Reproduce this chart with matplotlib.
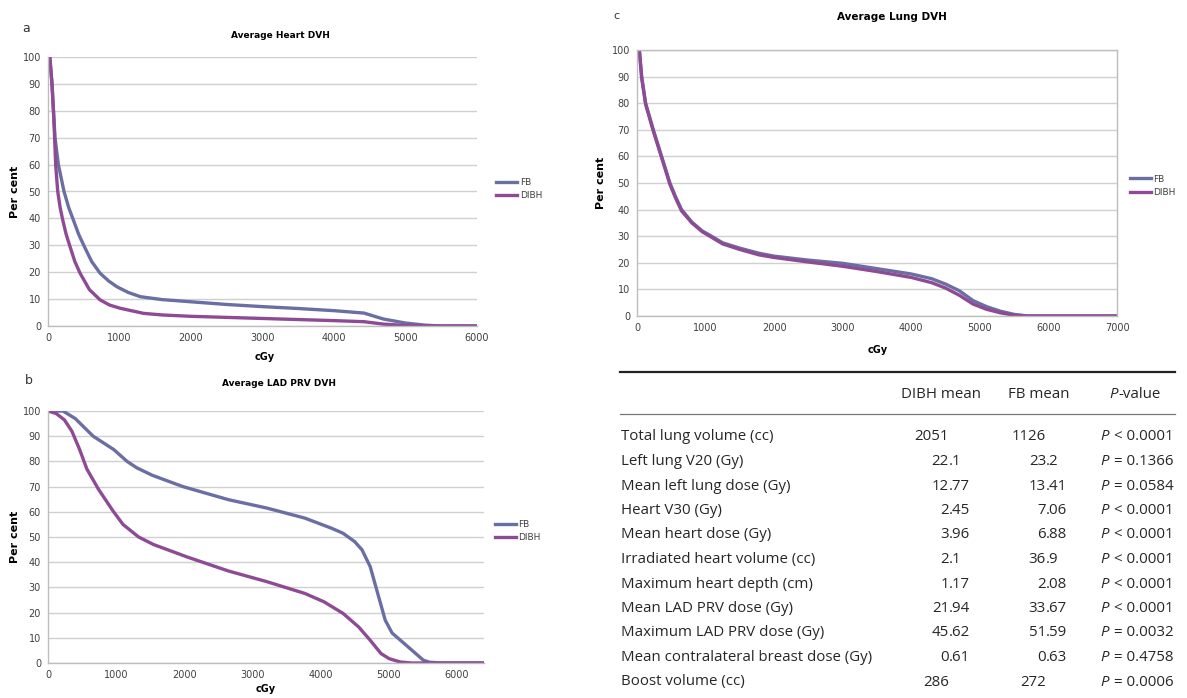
import matplotlib
matplotlib.use("Agg")
import matplotlib.pyplot as plt

W, H = 1187, 698

# dose points (cGy) and % volume for each DVH
heart_dose_fb = [0, 25, 56, 98, 145, 224, 290, 355, 430, 509, 610, 729, 850, 963, 1120, 1290, 1600, 2000, 2500, 3000, 3500, 4000, 4420, 4690, 5000, 5280, 5500, 6000]
heart_fb = [100, 100, 90, 70, 60, 50, 44, 39.4, 34, 29.5, 24, 19.6, 16.7, 14.6, 12.5, 10.9, 9.8, 9, 8, 7.2, 6.5, 5.7, 4.8, 2.6, 1.1, 0.3, 0, 0]
heart_dose_dibh = [0, 25, 56, 85, 107, 136, 170, 206, 255, 308, 375, 449, 580, 729, 860, 1009, 1336, 1600, 2000, 3000, 4000, 4420, 4690, 5000, 5300, 6000]
heart_dibh = [100, 100, 90, 75, 60, 50, 44, 39.4, 34, 29.5, 24, 19.6, 13.5, 9.7, 7.8, 6.6, 4.7, 4.1, 3.6, 2.8, 2.0, 1.6, 0.7, 0.2, 0, 0]

lad_dose_fb = [0, 220, 400, 663, 965, 1161, 1300, 1530, 1980, 2650, 3210, 3770, 4160, 4330, 4500, 4610, 4730, 4840, 4950, 5051, 5230, 5400, 5510, 5600, 5800, 6400]
lad_fb = [100, 100, 97, 90, 84.7, 80, 77.5, 74.5, 70, 64.8, 61.5, 57.5, 53.5, 51.5, 48.2, 44.9, 38.2, 27.6, 17, 11.9, 7.7, 3.7, 1.1, 0.3, 0, 0]
lad_dose_dibh = [0, 120, 240, 350, 460, 570, 740, 950, 1100, 1330, 1550, 2050, 2650, 3210, 3770, 4050, 4330, 4560, 4730, 4890, 5010, 5170, 5340, 6400]
lad_dibh = [100, 99, 96.5, 92, 85, 77, 69, 60.5, 55, 50, 47, 42, 36.5, 32.3, 27.6, 24.3, 19.7, 14.3, 9, 3.7, 1.7, 0.4, 0, 0]

lung_dose = [0, 34, 68, 126, 238, 359, 480, 560, 650, 800, 950, 1087, 1250, 1500, 1777, 2000, 2500, 3000, 3500, 4000, 4300, 4500, 4700, 4900, 5100, 5300, 5500, 5700, 7000]
lung_fb = [100, 100, 90, 80, 70, 60, 50, 45, 40, 35.3, 32, 30, 27.5, 25.5, 23.6, 22.5, 21, 19.8, 17.8, 15.8, 14, 12, 9.5, 5.8, 3.5, 1.8, 0.6, 0, 0]
lung_dibh = [100, 100, 89.5, 79.5, 69.5, 59.5, 49.5, 44.5, 39.5, 35, 31.7, 29.6, 27.1, 25, 23, 22, 20.3, 18.7, 16.7, 14.5, 12.5, 10.5, 7.8, 4.5, 2.5, 1.2, 0.3, 0, 0]

# table
row_labels = ["Total lung volume (cc)", "Left lung V20 (Gy)", "Mean left lung dose (Gy)",
              "Heart V30 (Gy)", "Mean heart dose (Gy)", "Irradiated heart volume (cc)",
              "Maximum heart depth (cm)", "Mean LAD PRV dose (Gy)", "Maximum LAD PRV dose (Gy)",
              "Mean contralateral breast dose (Gy)", "Boost volume (cc)"]
dibh_mean = ["2051", "22.1", "12.77", "2.45", "3.96", "2.1", "1.17", "21.94", "45.62", "0.61", "286"]
fb_mean = ["1126", "23.2", "13.41", "7.06", "6.88", "36.9", "2.08", "33.67", "51.59", "0.63", "272"]
p_values = ["< 0.0001", "= 0.1366", "= 0.0584", "< 0.0001", "< 0.0001", "< 0.0001",
            "< 0.0001", "< 0.0001", "= 0.0032", "= 0.4758", "= 0.0006"]

FB_COL = "#6b6ea3"
DIBH_COL = "#8e4a94"
GRID = "#d0d0d0"
TICK = "#404040"


def fx(x):
    return x / W


def fy(y):
    return 1 - y / H


def make_axes(fig, left, right, top, bottom):
    return fig.add_axes([fx(left), fy(bottom), (right - left) / W, (bottom - top) / H])


def style(ax, xmax, xticks, box=False):
    ax.set_xlim(0, xmax)
    ax.set_ylim(0, 100)
    ax.set_xticks(xticks)
    ax.set_yticks(range(0, 101, 10))
    ax.yaxis.grid(True, color=GRID, linewidth=1)
    ax.set_axisbelow(True)
    for s in ["top", "right"]:
        ax.spines[s].set_visible(box)
    for s in ax.spines.values():
        s.set_color("#bdbdbd")
        s.set_linewidth(1)
    ax.tick_params(length=0, labelsize=7, colors=TICK, pad=5)


def draw(ax, dfb, fb, ddibh, dibh, lx, ly):
    ax.plot(dfb, fb, color=FB_COL, lw=2.4, label="FB", solid_joinstyle="round")
    ax.plot(ddibh, dibh, color=DIBH_COL, lw=2.4, label="DIBH", solid_joinstyle="round")
    ax.legend(loc="center left", bbox_to_anchor=(lx, ly), frameon=False, fontsize=6.5,
              handlelength=2.3, handletextpad=0.3, labelspacing=0.45, borderpad=0,
              borderaxespad=0, labelcolor=TICK)


fig = plt.figure(figsize=(W / 100, H / 100), dpi=100)

# a - heart
ax_a = make_axes(fig, 48, 477, 57, 326)
draw(ax_a, heart_dose_fb, heart_fb, heart_dose_dibh, heart_dibh, 1.045, 0.51)
style(ax_a, 6000, range(0, 6001, 1000))
fig.text(fx(22), fy(29), "a", fontsize=9, color="#333333", va="center")
fig.text(fx(280), fy(35), "Average Heart DVH", fontsize=6.5, weight="bold", ha="center", va="center")
fig.text(fx(265), fy(357), "cGy", fontsize=7, weight="bold", ha="center", va="center")
fig.text(fx(15), fy(192), "Per cent", fontsize=8, weight="bold", ha="center", va="center", rotation=90)

# b - LAD PRV
ax_b = make_axes(fig, 48, 484, 411, 663)
draw(ax_b, lad_dose_fb, lad_fb, lad_dose_dibh, lad_dibh, 1.025, 0.525)
style(ax_b, 6400, range(0, 6001, 1000))
fig.text(fx(25), fy(381), "b", fontsize=9, color="#333333", va="center")
fig.text(fx(279), fy(384), "Average LAD PRV DVH", fontsize=6.5, weight="bold", ha="center", va="center")
fig.text(fx(266), fy(689), "cGy", fontsize=7, weight="bold", ha="center", va="center")
fig.text(fx(15), fy(537), "Per cent", fontsize=8, weight="bold", ha="center", va="center", rotation=90)

# c - lung
ax_c = make_axes(fig, 637, 1117, 50, 316)
draw(ax_c, lung_dose, lung_fb, lung_dose, lung_dibh, 1.027, 0.49)
style(ax_c, 7000, range(0, 7001, 1000), box=True)
fig.text(fx(613), fy(16), "c", fontsize=8, color="#333333", va="center")
fig.text(fx(892), fy(17), "Average Lung DVH", fontsize=7.5, weight="bold", ha="center", va="center")
fig.text(fx(878), fy(350), "cGy", fontsize=7, weight="bold", ha="center", va="center")
fig.text(fx(601), fy(183), "Per cent", fontsize=8, weight="bold", ha="center", va="center", rotation=90)

# table
TF = "Open Sans"
TS = 10.8
TC = "#262626"
fig.add_artist(plt.Line2D([fx(620), fx(1175)], [fy(372), fy(372)], color="#222222", lw=1.6))
fig.add_artist(plt.Line2D([fx(620), fx(1175)], [fy(414), fy(414)], color="#777777", lw=0.9))
fig.text(fx(941), fy(394), "DIBH mean", family=TF, fontsize=TS, color=TC, ha="center", va="center")
fig.text(fx(1039), fy(394), "FB mean", family=TF, fontsize=TS, color=TC, ha="center", va="center")
fig.text(fx(1109), fy(394), "P", family=TF, fontsize=TS, color=TC, style="italic", ha="left", va="center")
fig.text(fx(1118), fy(394), "-value", family=TF, fontsize=TS, color=TC, ha="left", va="center")


def dec_text(x_dot, y, val):
    if "." in val:
        ip, fp = val.split(".")
        fig.text(fx(x_dot), fy(y), ip, family=TF, fontsize=TS, color=TC, ha="right", va="center")
        fig.text(fx(x_dot), fy(y), "." + fp, family=TF, fontsize=TS, color=TC, ha="left", va="center")
    else:
        fig.text(fx(x_dot), fy(y), val, family=TF, fontsize=TS, color=TC, ha="right", va="center")


for i, lab in enumerate(row_labels):
    y = 437 + i * 24.5
    fig.text(fx(621), fy(y), lab, family=TF, fontsize=TS, color=TC, ha="left", va="center")
    dec_text(949, y, dibh_mean[i])
    dec_text(1046, y, fb_mean[i])
    fig.text(fx(1100), fy(y), "P", family=TF, fontsize=TS, color=TC, style="italic", ha="left", va="center")
    fig.text(fx(1174), fy(y), p_values[i], family=TF, fontsize=TS, color=TC, ha="right", va="center")

fig.savefig("out.png", dpi=100, facecolor="white")
